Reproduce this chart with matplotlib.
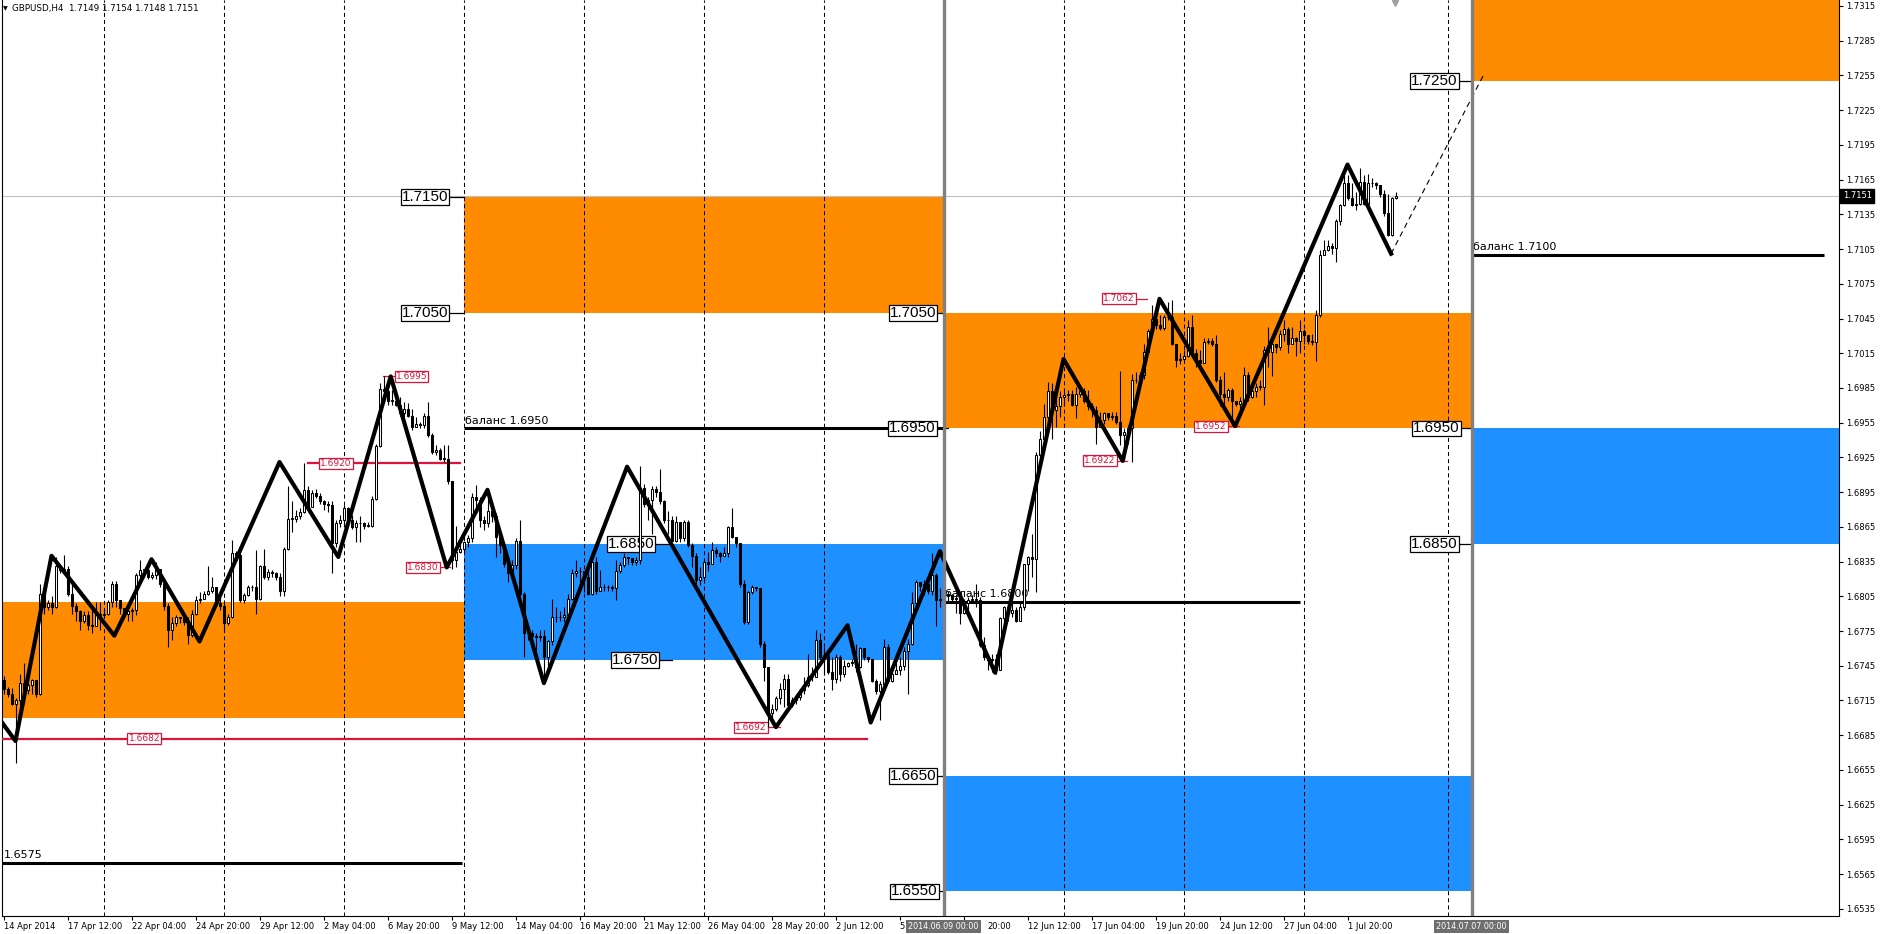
import numpy as np
import matplotlib
matplotlib.use("Agg")
import matplotlib.pyplot as plt
from matplotlib.patches import Rectangle
from matplotlib.transforms import blended_transform_factory

plt.rcParams["font.family"] = ["DejaVu Sans"]
plt.rcParams["lines.scale_dashes"] = False

# GBPUSD H4 candles, values in pips above 1.6500 (bar 0 = 14 Apr 2014 00:00)
BASE = 1.6500
PIP = 0.0001
first_open_pips = 233
close_pips = [
    225, 221, 212, 215, 230, 224, 228, 233, 221, 307, 296, 299, 296, 331, 328, 329, 307, 297, 292, 284,
    289, 280, 279, 290, 289, 290, 300, 316, 302, 295, 290, 292, 293, 323, 328, 328, 322, 323, 329, 316,
    297, 276, 282, 287, 286, 283, 272, 290, 302, 303, 307, 310, 313, 299, 297, 282, 287, 342, 341, 302,
    306, 313, 313, 303, 331, 322, 326, 325, 322, 310, 346, 372, 372, 374, 378, 397, 382, 394, 392, 387,
    385, 384, 351, 368, 371, 381, 371, 365, 368, 368, 366, 366, 389, 435, 484, 482, 474, 474, 470, 463,
    467, 461, 451, 454, 453, 461, 444, 430, 431, 424, 424, 405, 336, 343, 346, 352, 355, 391, 388, 371,
    368, 379, 374, 356, 349, 333, 325, 332, 353, 307, 273, 273, 271, 270, 271, 253, 266, 287, 287, 287,
    289, 303, 325, 327, 327, 322, 307, 335, 310, 313, 313, 313, 312, 327, 332, 339, 338, 335, 336, 399,
    385, 388, 398, 395, 387, 371, 371, 353, 369, 355, 369, 349, 340, 319, 322, 335, 333, 345, 342, 340,
    342, 365, 356, 351, 316, 283, 309, 313, 312, 264, 244, 204, 208, 217, 225, 234, 211, 215, 218, 224,
    228, 235, 235, 267, 253, 254, 240, 234, 253, 238, 245, 247, 248, 244, 260, 253, 251, 232, 223, 229,
    261, 232, 238, 241, 245, 258, 264, 299, 317, 314, 316, 310, 323, 302, 303, 307, 306, 303, 303, 291,
    299, 302, 303, 302, 263, 253, 250, 251, 241, 286, 296, 291, 293, 284, 296, 333, 339, 337, 427, 441,
    460, 482, 466, 469, 477, 479, 480, 470, 480, 482, 474, 469, 466, 451, 457, 463, 460, 461, 456, 444,
    447, 450, 492, 492, 496, 516, 534, 545, 539, 537, 546, 546, 523, 509, 510, 513, 538, 515, 509, 507,
    525, 526, 523, 492, 480, 477, 483, 474, 471, 474, 496, 477, 482, 486, 486, 518, 516, 523, 520, 532,
    536, 523, 528, 526, 534, 531, 526, 525, 548, 600, 604, 608, 606, 629, 643, 662, 649, 643, 644, 663,
    644, 662, 662, 660, 653, 636, 617, 649, 651,
]
high_pips = [
    236, 227, 226, 217, 238, 247, 233, 234, 233, 316, 305, 302, 305, 339, 331, 341, 331, 316, 299, 293,
    292, 292, 293, 300, 300, 295, 302, 318, 318, 302, 295, 295, 295, 325, 336, 329, 331, 326, 335, 329,
    319, 299, 287, 289, 287, 286, 287, 293, 305, 309, 310, 331, 322, 312, 305, 302, 290, 354, 344, 344,
    308, 315, 315, 345, 332, 346, 329, 328, 326, 325, 348, 400, 387, 380, 381, 420, 400, 397, 398, 394,
    388, 387, 387, 371, 375, 384, 382, 375, 371, 374, 369, 369, 392, 437, 489, 495, 492, 483, 483, 477,
    473, 472, 467, 460, 456, 463, 473, 446, 436, 433, 436, 436, 405, 366, 351, 353, 358, 394, 401, 391,
    374, 397, 382, 377, 358, 351, 336, 336, 355, 371, 309, 277, 276, 273, 276, 276, 267, 303, 296, 292,
    296, 307, 329, 336, 330, 325, 328, 336, 339, 328, 316, 315, 315, 336, 335, 342, 339, 338, 339, 418,
    402, 391, 400, 400, 415, 388, 379, 374, 374, 369, 371, 371, 351, 342, 330, 338, 343, 352, 348, 343,
    348, 366, 381, 356, 348, 319, 310, 315, 313, 312, 266, 244, 212, 219, 230, 238, 238, 218, 221, 225,
    235, 255, 244, 276, 273, 261, 258, 253, 255, 254, 250, 248, 251, 264, 261, 255, 253, 251, 234, 232,
    268, 264, 241, 253, 253, 261, 268, 309, 319, 317, 319, 317, 342, 325, 312, 315, 310, 307, 306, 306,
    303, 304, 306, 316, 304, 270, 254, 255, 255, 287, 297, 296, 304, 296, 299, 333, 340, 359, 430, 448,
    471, 490, 489, 486, 482, 482, 483, 483, 486, 483, 485, 483, 472, 469, 464, 464, 463, 464, 464, 500,
    450, 453, 497, 499, 499, 523, 536, 557, 545, 548, 548, 559, 561, 523, 515, 518, 544, 548, 519, 518,
    528, 528, 528, 531, 495, 499, 485, 485, 474, 477, 503, 499, 487, 489, 492, 521, 538, 526, 523, 535,
    544, 538, 538, 529, 544, 536, 531, 532, 552, 604, 613, 613, 610, 631, 644, 669, 669, 662, 654, 675,
    669, 670, 666, 663, 659, 656, 653, 650, 654,
]
low_pips = [
    221, 218, 211, 161, 211, 212, 221, 221, 218, 220, 290, 293, 290, 295, 325, 325, 305, 290, 284, 276,
    282, 276, 273, 279, 276, 287, 289, 296, 296, 290, 287, 284, 284, 289, 319, 322, 320, 320, 320, 313,
    293, 261, 267, 279, 282, 280, 264, 270, 289, 299, 303, 306, 308, 296, 293, 276, 280, 286, 338, 300,
    299, 305, 310, 290, 302, 320, 319, 322, 319, 305, 305, 345, 361, 369, 372, 377, 380, 382, 390, 385,
    380, 378, 325, 348, 365, 365, 368, 363, 352, 352, 363, 365, 365, 388, 434, 474, 470, 470, 469, 461,
    460, 460, 449, 451, 450, 450, 443, 428, 427, 423, 421, 402, 329, 330, 342, 342, 348, 352, 379, 365,
    362, 365, 369, 339, 342, 330, 317, 322, 329, 304, 253, 267, 267, 258, 266, 235, 244, 263, 283, 284,
    283, 286, 302, 322, 310, 309, 306, 306, 307, 310, 310, 310, 310, 302, 325, 330, 333, 332, 332, 333,
    382, 371, 359, 391, 385, 368, 359, 352, 352, 352, 353, 348, 330, 316, 315, 319, 327, 333, 339, 335,
    340, 339, 355, 348, 313, 281, 281, 307, 310, 261, 232, 192, 199, 206, 212, 209, 209, 209, 212, 215,
    221, 227, 232, 243, 250, 238, 238, 224, 230, 232, 235, 244, 245, 240, 243, 250, 248, 231, 221, 198,
    227, 230, 231, 238, 237, 241, 221, 263, 297, 310, 306, 307, 306, 279, 296, 300, 299, 299, 291, 281,
    290, 293, 299, 296, 261, 250, 241, 240, 238, 250, 281, 284, 287, 283, 284, 293, 310, 322, 309, 425,
    440, 451, 441, 451, 460, 469, 474, 469, 459, 477, 472, 466, 460, 437, 454, 454, 457, 457, 454, 436,
    423, 437, 421, 489, 489, 493, 515, 532, 536, 535, 535, 544, 522, 503, 506, 509, 512, 513, 503, 506,
    515, 523, 521, 490, 469, 469, 474, 453, 469, 463, 472, 474, 476, 477, 483, 470, 503, 495, 515, 518,
    526, 515, 523, 513, 515, 523, 523, 522, 508, 546, 600, 603, 601, 594, 626, 642, 647, 642, 639, 643,
    643, 650, 659, 657, 650, 634, 616, 616, 648,
]
current_price = 1.7151

# time axis labels (every 16 bars); the ones under the separator boxes show only partly
time_tick_bars = list(range(0, 337, 16))
time_tick_text = ["14 Apr 2014", "17 Apr 12:00", "22 Apr 04:00", "24 Apr 20:00", "29 Apr 12:00",
                  "2 May 04:00", "6 May 20:00", "9 May 12:00", "14 May 04:00", "16 May 20:00",
                  "21 May 12:00", "26 May 04:00", "28 May 20:00", "2 Jun 12:00", "5",
                  "", "12 Jun 12:00", "17 Jun 04:00", "19 Jun 20:00", "24 Jun 12:00",
                  "27 Jun 04:00", "1 Jul 20:00"]
partial_label_bar = 245.9
partial_label_text = "20:00"
grid_bars = [25, 55, 85, 115, 145, 175, 205, 265, 295, 325, 361]

# vertical separators (bar position, label)
separators = [(235, "2014.06.09 00:00"), (367, "2014.07.07 00:00")]

# supply / demand zones: (bar from, bar to, price low, price high, kind)
X_LEFT, X_RIGHT = -0.375, 458.875
zones = [
    (X_LEFT, 115, 1.6700, 1.6800, "supply"),
    (115, 235, 1.7050, 1.7150, "supply"),
    (115, 235, 1.6750, 1.6850, "demand"),
    (235, 367, 1.6950, 1.7050, "supply"),
    (235, 367, 1.6550, 1.6650, "demand"),
    (367, X_RIGHT, 1.7250, 1.7400, "supply"),
    (367, X_RIGHT, 1.6850, 1.6950, "demand"),
]

# balance lines: (price, bar from, bar to, label)
balance_lines = [
    (1.6575, X_LEFT, 114.5, "1.6575"),
    (1.6950, 115, 235, "баланс 1.6950"),
    (1.6800, 235, 324, "баланс 1.6800"),
    (1.7100, 367, 455, "баланс 1.7100"),
]

# boxed level labels: (price, right edge bar, leader end bar)
level_prices = [1.7150, 1.7050, 1.6850, 1.6750, 1.7050, 1.6950, 1.6650, 1.6550, 1.7250, 1.6950, 1.6850]
level_right = [111.6, 111.6, 163.1, 164.1, 233.6, 233.4, 233.6, 233.9, 363.9, 364.4, 363.9]
level_leader = [115.0, 115.0, 166.1, 167.1, 235.0, 236.1, 235.0, 235.0, 367.0, 367.0, 367.0]

# swing high/low marks: (price, label centre bar, leader line)
swing_prices = [1.6682, 1.6920, 1.6995, 1.6830, 1.6692, 1.7062, 1.6922, 1.6952]
swing_label_bar = [35.2, 83.1, 102.0, 104.9, 186.9, 278.9, 274.1, 301.9]
swing_line_from = [X_LEFT, 76.1, 94.9, 109.4, 191.4, 283.4, 278.6, 306.4]
swing_line_to = [215.9, 114.1, 97.6, 111.6, 194.1, 285.9, 280.9, 308.9]

# hand drawn zigzag (bar, price) and projection
zz_bars = [-1, 3, 12, 27.7, 37, 49, 69, 83.7, 96.8, 110.8, 121, 135.1, 155.9, 193.1,
           211, 216.8, 234.1, 247.9, 265, 279.8, 289, 307.9, 336, 346.9]
zz_prices = [1.6699, 1.6680, 1.6840, 1.6771, 1.6837, 1.6766, 1.6921, 1.6839, 1.6995, 1.6830,
             1.6897, 1.6730, 1.6917, 1.6692, 1.6780, 1.6696, 1.6844, 1.6739, 1.7010, 1.6922,
             1.7062, 1.6952, 1.7178, 1.7101]
proj_bars = [346.9, 370.1]
proj_prices = [1.7101, 1.7256]

ORANGE = "#FF8C00"
BLUE = "#1E90FF"
RED = "#DC143C"
ZONE_COLORS = {"supply": ORANGE, "demand": BLUE}

W, H = 1881, 934
fig = plt.figure(figsize=(W / 100, H / 100), dpi=100, facecolor="white")
ax = fig.add_axes([2 / W, 18 / H, 1837 / W, 916 / H])
ax.set_xlim(X_LEFT, X_RIGHT)
ax.set_ylim(1.652882, 1.732018)
ax.set_facecolor("white")

for x0, x1, p0, p1, kind in zones:
    ax.add_patch(Rectangle((x0, p0), x1 - x0, p1 - p0, color=ZONE_COLORS[kind], lw=0, zorder=1))

for b in grid_bars:
    ax.axvline(b, color="black", lw=0.75, ls=(0, (2.9, 2.2)), zorder=2)
ax.axhline(current_price, color="#C0C0C0", lw=0.8, zorder=2)

# balance lines + captions
for price, b0, b1, text in balance_lines:
    ax.plot([b0, b1], [price, price], color="black", lw=2.2, solid_capstyle="butt", zorder=3)
    ax.text(b0 + 0.4, price + 0.00042, text, fontsize=8, va="baseline", ha="left", zorder=3)

# red swing marks
for price, cb, s0, s1 in zip(swing_prices, swing_label_bar, swing_line_from, swing_line_to):
    long_line = (s1 - s0) > 20
    ax.plot([s0, s1], [price, price], color=RED, lw=1.6 if long_line else 0.9, zorder=3)
    ax.text(cb, price, f"{price:.4f}", color=RED, fontsize=6.5, ha="center", va="center", zorder=3,
            bbox=dict(boxstyle="square,pad=0.12", fc="white", ec=RED, lw=0.9))

# boxed level labels
for price, xr, xl in zip(level_prices, level_right, level_leader):
    ax.plot([xr, xl], [price, price], color="black", lw=0.9, zorder=3)
    ax.text(xr - 0.35, price, f"{price:.4f}", fontsize=11, family="Liberation Sans",
            ha="right", va="center", zorder=3,
            bbox=dict(boxstyle="square,pad=0.06", fc="white", ec="black", lw=0.9))

# candles
closes = BASE + np.array(close_pips) * PIP
highs = BASE + np.array(high_pips) * PIP
lows = BASE + np.array(low_pips) * PIP
opens = np.r_[BASE + first_open_pips * PIP, closes[:-1]]
idx = np.arange(len(closes))
body_lo = np.minimum(opens, closes)
body_hi = np.maximum(opens, closes)
ax.vlines(idx, np.minimum(lows, body_lo), np.maximum(highs, body_hi), color="black", lw=0.8, zorder=4)
bull = closes >= opens
ax.bar(idx, np.maximum(body_hi - body_lo, 0.00003), bottom=body_lo, width=0.5,
       color=np.where(bull, "white", "black"), edgecolor="black", lw=0.75, zorder=5)

# zigzag
ax.plot(zz_bars, zz_prices, color="black", lw=3.0, solid_joinstyle="round", zorder=6)
ax.plot(proj_bars, proj_prices, color="black", lw=0.8, ls=(0, (4, 3)), zorder=6)

# separators
trans_x = blended_transform_factory(ax.transData, ax.transAxes)
for b, text in separators:
    ax.axvline(b, color="#808080", lw=2.4, zorder=7)
    ax.text(b, -0.0115, text, transform=trans_x, fontsize=5.8, color="white", ha="center",
            va="center", clip_on=False, zorder=10,
            bbox=dict(boxstyle="square,pad=0.25", fc="#6E6E6E", ec="none"))

# chart shift marker
ax.plot([347.9], [1.7318], marker="v", color="#A0A0A0", ms=5, clip_on=False, zorder=8)

# axes
for side in ["left", "right", "bottom"]:
    ax.spines[side].set_color("black")
    ax.spines[side].set_linewidth(0.8)
ax.spines["top"].set_visible(False)

ax.set_xticks(time_tick_bars)
ax.set_xticklabels(time_tick_text)
for lbl in ax.get_xticklabels():
    lbl.set_ha("left")
ax.tick_params(axis="x", length=3, width=0.8, labelsize=6, pad=1.5)
ax.text(partial_label_bar, -0.0115, partial_label_text, transform=trans_x, fontsize=6,
        ha="left", va="center", clip_on=False)

ax.yaxis.tick_right()
price_ticks = np.round(np.arange(1.6535, 1.7316, 0.0030), 4)
ax.set_yticks(price_ticks)
ax.set_yticklabels([f"{p:.4f}" for p in price_ticks])
ax.tick_params(axis="y", length=3, width=0.8, labelsize=6, pad=2)

trans_y = blended_transform_factory(ax.transAxes, ax.transData)
ax.text(1.0 + 4 / 1837, current_price, f"{current_price:.4f}", transform=trans_y, fontsize=6,
        color="white", ha="left", va="center", clip_on=False, zorder=10,
        bbox=dict(boxstyle="square,pad=0.3", fc="black", ec="black"))

fig.text(3 / W, 1 - 9 / H, "▼", fontsize=4.5, va="center", ha="left")
fig.text(12 / W, 1 - 9 / H, "GBPUSD,H4  1.7149 1.7154 1.7148 1.7151", fontsize=6.3,
         va="center", ha="left")

fig.savefig("out.png", dpi=100, facecolor="white")
